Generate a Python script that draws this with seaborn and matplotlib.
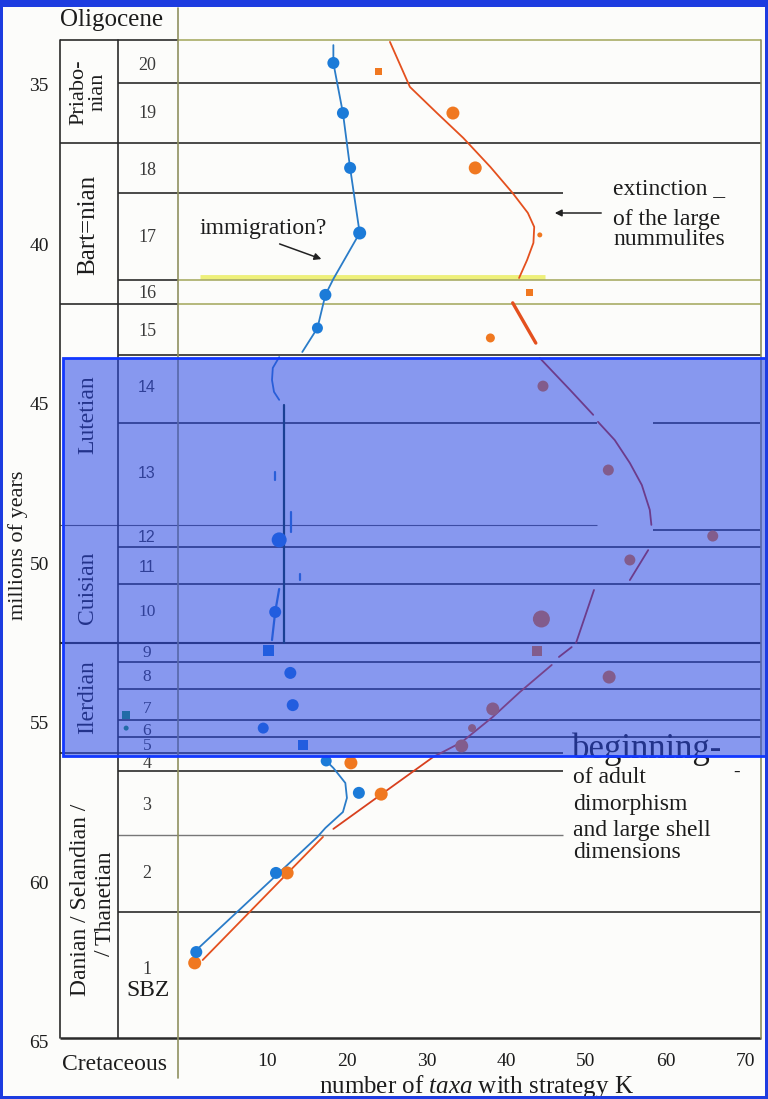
import numpy as np
import pandas as pd
import matplotlib
matplotlib.use("Agg")
import matplotlib.pyplot as plt
import seaborn as sns
from matplotlib.patches import Rectangle

# ---------------- data (ages in Ma, counts = number of taxa) ----------------
blue_zone = [20, 19, 18, 17, 16, 15, 12, 10, 9, 8, 7, 6, 5, 4, 3, 2, 1]
blue_age = [34.31, 35.88, 37.60, 39.64, 41.58, 42.62, 49.26, 51.52, 52.74, 53.43,
            54.44, 55.16, 55.69, 56.19, 57.19, 59.70, 62.18]
blue_count = [18.3, 19.5, 20.4, 21.6, 17.3, 16.3, 11.5, 11.0, 10.1, 12.9,
              13.2, 9.5, 14.5, 17.4, 21.5, 11.1, 1.1]

orange_zone = [20, 19, 18, 17, 16, 15, 14, 13, 12, 11, 10, 9, 8, 7, 6, 5, 4, 3, 2, 1]
orange_age = [34.59, 35.88, 37.60, 39.70, 41.52, 42.93, 44.44, 47.07, 49.14, 49.89,
              51.74, 52.74, 53.56, 54.56, 55.16, 55.72, 56.25, 57.23, 59.70, 62.52]
orange_count = [23.9, 33.3, 36.1, 44.2, 42.9, 38.0, 44.6, 52.8, 65.9, 55.5,
                44.4, 43.9, 52.9, 38.3, 35.7, 34.4, 20.5, 24.3, 12.5, 0.9]

green_age = [54.75, 55.16]
green_count = [-7.7, -7.7]

# hand-drawn trend curves
blue_upper_count = [18.3, 18.3, 19.5, 20.4, 21.6, 18.3, 17.3, 16.3, 14.4]
blue_upper_age = [33.75, 34.31, 35.88, 37.60, 39.64, 41.08, 41.58, 42.62, 43.37]
blue_arc_count = [11.5, 10.7, 10.6, 10.85, 11.5]
blue_arc_age = [43.53, 43.87, 44.25, 44.62, 44.87]
blue_bar_count = [12.1, 12.1]
blue_bar_age = [45.03, 52.49]
blue_mid_count = [11.5, 11.0, 10.6]
blue_mid_age = [50.80, 51.52, 52.40]
blue_lower_count = [17.4, 18.3, 19.8, 20.0, 19.5, 17.3, 16.3, 1.1]
blue_lower_age = [56.19, 56.41, 56.88, 57.35, 57.79, 58.29, 58.57, 62.12]
blue_tick_count = [11.0, 13.0, 14.1]
blue_tick_age0 = [47.13, 48.39, 50.33]
blue_tick_age1 = [47.38, 49.01, 50.52]

orange_upper_count = [25.4, 27.9, 31.3, 34.6, 38.0, 40.8, 42.7, 43.5, 43.4, 42.6, 41.6]
orange_upper_age = [33.65, 35.06, 35.88, 36.66, 37.57, 38.39, 39.01, 39.45, 39.95, 40.49, 41.05]
orange_stub_count = [40.8, 43.7]
orange_stub_age = [41.83, 43.09]
orange_a_count = [44.2, 48.0, 50.9]
orange_a_age = [43.56, 44.56, 45.34]
orange_b_count = [51.5, 53.6, 55.5, 57.0, 58.0, 58.2]
orange_b_age = [45.56, 46.13, 46.85, 47.54, 48.32, 48.79]
orange_c_count = [57.8, 55.5]
orange_c_age = [49.58, 50.52]
orange_d_count = [51.0, 48.75]
orange_d_age = [50.83, 52.49]
orange_e_count = [48.2, 46.6]
orange_e_age = [52.62, 52.93]
orange_f_count = [45.7, 41.7, 38.3, 34.4, 30.8, 18.3]
orange_f_age = [53.18, 54.03, 54.81, 55.60, 56.07, 58.32]
orange_g_count = [17.0, 1.9]
orange_g_age = [58.57, 62.43]

# zone boundaries (Ma)
zone_bounds = [33.59, 34.94, 36.82, 38.39, 41.11, 41.87, 43.46, 45.60, 48.79,
               49.48, 50.64, 52.49, 53.09, 53.93, 54.91, 55.44, 55.94, 56.50,
               58.51, 60.92, 64.87]
sbz_labels = ["20", "19", "18", "17", "16", "15", "14", "13", "12", "11",
              "10", "9", "8", "7", "6", "5", "4", "3", "2", "1"]
year_ticks = [35, 40, 45, 50, 55, 60, 65]
taxa_ticks = [10, 20, 30, 40, 50, 60, 70]

# ---------------- style ----------------
sns.set_theme(style="white")
plt.rcParams['font.family'] = ['Liberation Serif', 'DejaVu Serif']
plt.rcParams['mathtext.fontset'] = 'custom'
plt.rcParams['mathtext.rm'] = 'Liberation Serif'
plt.rcParams['mathtext.it'] = 'Liberation Serif:italic'

W, H = 768, 1099
fig = plt.figure(figsize=(W / 100, H / 100), dpi=100)
fig.patch.set_facecolor('#fcfcfa')

def fx(px):
    return px / W

def fy(py):
    return 1 - py / H

ax = fig.add_axes([fx(60), fy(1042), (762 - 60) / W, (1042 - 40) / H])
ax.set_facecolor('none')
ax.set_xlim(-16.0, 72.08)
ax.set_ylim(65.0, 33.59)
for s in ax.spines.values():
    s.set_visible(False)

TXT = '#1c1c1c'
DARK = '#2a2a2a'
OLIVE = '#a9ac66'
BLUE = '#1c7bd8'
BLUE_LINE = '#2a7cc8'
ORANGE = '#f07820'
ORANGE_LINE = '#e4501e'

X_STAGE, X_SBZ, X_PLOT, X_RIGHT, X_SHORT = -16.0, -8.72, -1.19, 71.95, 47.11

# yellow highlight
ax.plot([1.57, 44.86], [41.02, 41.02], color='#eef07a', lw=3.5, zorder=1, solid_capstyle='butt')

def hl(age, x0, x1, color=DARK, lw=1.2):
    ax.plot([x0, x1], [age, age], color=color, lw=lw, zorder=2, solid_capstyle='butt', clip_on=False)

b = zone_bounds
hl(b[0], X_STAGE, X_PLOT); hl(b[0], X_PLOT, X_RIGHT, OLIVE)
hl(b[1], X_SBZ, X_RIGHT)
hl(b[2], X_STAGE, X_RIGHT)
hl(b[3], X_SBZ, X_SHORT)
hl(b[4], X_SBZ, X_PLOT); hl(b[4], X_PLOT, X_RIGHT, OLIVE)
hl(b[5], X_STAGE, X_PLOT); hl(b[5], X_PLOT, X_RIGHT, OLIVE)
hl(b[6], X_SBZ, X_RIGHT)
hl(b[7], X_SBZ, 51.38); hl(b[7], 58.41, 71.83)
hl(b[8], X_STAGE, 51.38, '#555555', 0.8); hl(48.95, 58.41, 71.83)
hl(b[9], X_SBZ, X_RIGHT)
hl(b[10], X_SBZ, X_RIGHT)
hl(b[11], X_STAGE, X_RIGHT, DARK, 1.5)
for a in b[12:16]:
    hl(a, X_SBZ, X_RIGHT)
hl(b[16], X_STAGE, X_SHORT)
hl(b[17], X_SBZ, X_SHORT)
hl(b[18], X_SBZ, X_SHORT, '#777777', 1.0)
hl(b[19], X_SBZ, X_RIGHT)
hl(b[20], X_STAGE, X_RIGHT, DARK, 1.8)

def vl(x, a0, a1, color=DARK, lw=1.2):
    ax.plot([x, x], [a0, a1], color=color, lw=lw, zorder=2, clip_on=False)

vl(X_STAGE, b[0], b[20])
vl(X_SBZ, b[0], b[20])
vl(X_PLOT, 32.59, 66.13, '#8f9060', 1.2)
vl(X_RIGHT, b[0], b[20], '#8f9060', 1.2)

# trend curves
def curve(c, a, color, lw=1.3, z=3):
    ax.plot(c, a, color=color, lw=lw, zorder=z, solid_capstyle='round')

curve(blue_upper_count, blue_upper_age, BLUE_LINE)
curve(blue_arc_count, blue_arc_age, BLUE_LINE)
curve(blue_bar_count, blue_bar_age, '#0a3a30', 1.6)
curve(blue_mid_count, blue_mid_age, BLUE_LINE, 1.6)
curve(blue_lower_count, blue_lower_age, BLUE_LINE)
for c, a0, a1 in zip(blue_tick_count, blue_tick_age0, blue_tick_age1):
    curve([c, c], [a0, a1], BLUE_LINE, 1.6)

curve(orange_upper_count, orange_upper_age, ORANGE_LINE)
curve(orange_stub_count, orange_stub_age, ORANGE_LINE, 2.4)
curve(orange_a_count, orange_a_age, '#c0301e')
curve(orange_b_count, orange_b_age, '#c0301e')
curve(orange_c_count, orange_c_age, '#c0301e')
curve(orange_d_count, orange_d_age, '#c0301e')
curve(orange_e_count, orange_e_age, '#c0301e')
curve(orange_f_count, orange_f_age, '#d8401e')
curve(orange_g_count, orange_g_age, ORANGE_LINE)

# points
def px_size(d):
    return (d * 0.72) ** 2

blue_df = pd.DataFrame({'count': blue_count, 'age': blue_age, 'zone': blue_zone})
blue_df['marker'] = ['s' if z in (9, 5) else 'o' for z in blue_df['zone']]
blue_diam = {12: 15, 17: 13, 15: 11, 6: 11, 5: 10, 9: 11, 4: 11}
blue_df['s'] = [px_size(blue_diam.get(z, 12)) for z in blue_df['zone']]

orange_df = pd.DataFrame({'count': orange_count, 'age': orange_age, 'zone': orange_zone})
orange_df['marker'] = ['s' if z in (20, 16, 9) else 'o' for z in orange_df['zone']]
orange_diam = {20: 7, 17: 5, 16: 7, 15: 9, 10: 17, 9: 10, 6: 8, 14: 11, 13: 11, 12: 11, 11: 11}
orange_df['s'] = [px_size(orange_diam.get(z, 13)) for z in orange_df['zone']]

for df, col in ((orange_df, ORANGE), (blue_df, BLUE)):
    for m, sub in df.groupby('marker'):
        sns.scatterplot(data=sub, x='count', y='age', s=sub['s'].values, marker=m,
                        color=col, edgecolor='none', linewidth=0, ax=ax,
                        legend=False, zorder=4, clip_on=False)

sns.scatterplot(x=green_count[:1], y=green_age[:1], marker='s', s=px_size(8),
                color='#1c9a5c', edgecolor='none', ax=ax, legend=False, zorder=4, clip_on=False)
sns.scatterplot(x=green_count[1:], y=green_age[1:], marker='o', s=px_size(5),
                color='#1c9a5c', edgecolor='none', ax=ax, legend=False, zorder=4, clip_on=False)

# axes ticks
ax.set_yticks(year_ticks)
ax.set_yticklabels([str(t) for t in year_ticks])
ax.set_xticks(taxa_ticks)
ax.set_xticklabels([str(t) for t in taxa_ticks])
ax.tick_params(axis='y', length=0, pad=8, labelsize=14, labelcolor=TXT)
ax.tick_params(axis='x', length=0, pad=8, labelsize=14, labelcolor=TXT)
ax.set_xlabel('')
ax.set_ylabel('')

def ftext(x, y, s, **kw):
    kw.setdefault('color', TXT)
    kw.setdefault('zorder', 2)
    fig.text(fx(x), fy(y), s, **kw)

ftext(60, 20, 'Oligocene', fontsize=18, va='center', ha='left')
ftext(62, 1064, 'Cretaceous', fontsize=17, va='center', ha='left')
ftext(18, 545, 'millions of years', fontsize=16, rotation=90, va='center', ha='center')
ftext(476, 1093, 'number of $\\mathit{taxa}$ with strategy K', fontsize=18, va='baseline', ha='center')

# stage names
ftext(88, 92, 'Priabo-\nnian', fontsize=16, rotation=90, va='center', ha='center',
      multialignment='center', linespacing=1.0)
ftext(88, 225, 'Bart=nian', fontsize=18, rotation=90, va='center', ha='center')
ftext(88, 415, 'Lutetian', fontsize=17, rotation=90, va='center', ha='center')
ftext(88, 588, 'Cuisian', fontsize=17, rotation=90, va='center', ha='center')
ftext(88, 697, 'Ilerdian', fontsize=17, rotation=90, va='center', ha='center')
ftext(80, 900, 'Danian / Selandian /', fontsize=17, rotation=90, va='center', ha='center')
ftext(105, 898, 'Thanetian', fontsize=17, rotation=90, va='center', ha='center')
ftext(105, 953, '/', fontsize=17, rotation=90, va='center', ha='center')

# SBZ numbers
sbz_y = [65, 113, 171, 237, 294, 331, 387, 474, 538, 568, 612, 653, 677, 709, 731, 746, 764, 805, 873, 970]
for lab, yy in zip(sbz_labels, sbz_y):
    if lab in ('14', '13', '12', '11'):
        fam, fs = ['Liberation Sans'], 11.5
    elif lab in ('10', '9', '8', '7', '6', '5'):
        fam, fs = ['Liberation Serif'], 12.5
    else:
        fam, fs = ['Liberation Serif'], 13
    ftext(147, yy, lab, fontsize=fs, va='center', ha='center', family=fam, color='#3a3a3a')
ftext(148, 990, 'SBZ', fontsize=17, va='center', ha='center')

# annotations
ftext(200, 234, 'immigration?', fontsize=17, va='baseline', ha='left')
ax.annotate('', xy=(324, H - 260), xytext=(277, H - 243), xycoords='figure pixels',
            textcoords='figure pixels',
            arrowprops=dict(arrowstyle='-|>', lw=1.1, color='#222222', mutation_scale=10))
ftext(613, 194, 'extinction _', fontsize=17, va='baseline', ha='left')
ftext(613, 225, 'of the large', fontsize=17, va='baseline', ha='left')
ftext(613, 245, 'nummulites', fontsize=17, va='baseline', ha='left')
ax.annotate('', xy=(552, H - 213), xytext=(604, H - 213), xycoords='figure pixels',
            textcoords='figure pixels',
            arrowprops=dict(arrowstyle='-|>', lw=1.1, color='#222222', mutation_scale=10))

ftext(572, 758, 'beginning-', fontsize=25, va='baseline', ha='left')
ftext(733, 772, '-', fontsize=14, va='center', ha='left')
ftext(573, 783, 'of adult', fontsize=17, va='baseline', ha='left')
ftext(573, 810, 'dimorphism', fontsize=17, va='baseline', ha='left')
ftext(573, 836, 'and large shell', fontsize=17, va='baseline', ha='left')
ftext(573, 858, 'dimensions', fontsize=17, va='baseline', ha='left')

# blue highlight overlay
fig.add_artist(Rectangle((fx(63), fy(756)), (768 - 63) / W, (756 - 358) / H,
                         transform=fig.transFigure, facecolor=(40 / 255, 70 / 255, 230 / 255, 0.55),
                         edgecolor='#1238ff', lw=2.0, zorder=5))

# outer blue frame
FR = '#1d3ce0'
fig.add_artist(Rectangle((0, fy(7)), 1, 7 / H, transform=fig.transFigure, facecolor=FR, edgecolor='none', zorder=6))
fig.add_artist(Rectangle((0, 0), 3 / W, 1, transform=fig.transFigure, facecolor=FR, edgecolor='none', zorder=6))
fig.add_artist(Rectangle((1 - 3 / W, 0), 3 / W, 1, transform=fig.transFigure, facecolor=FR, edgecolor='none', zorder=6))
fig.add_artist(Rectangle((0, 0), 1, 3 / H, transform=fig.transFigure, facecolor=FR, edgecolor='none', zorder=6))

fig.savefig('out.png', dpi=100, facecolor=fig.get_facecolor())
